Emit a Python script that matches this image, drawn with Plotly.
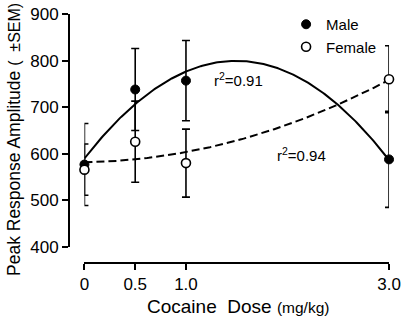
import numpy as np
import plotly.graph_objects as go

dose = [0, 0.5, 1.0, 3.0]
dose_ticks = ["0", "0.5", "1.0", "3.0"]
male_mean = [577, 738, 757, 588]
male_sem = [88, 88, 86, 103]
female_mean = [566, 626, 580, 760]
female_sem = [55, 87, 73, 72]
y_ticks = [400, 500, 600, 700, 800, 900]
r2_male = "r<sup>2</sup>=0.91"
r2_female = "r<sup>2</sup>=0.94"

FONT = "Liberation Sans, Arial, sans-serif"

xs = np.linspace(0, 3, 200)
male_fit = np.polyval(np.polyfit(dose, male_mean, 2), xs)
female_fit = np.polyval(np.polyfit(dose, female_mean, 2), xs)

fig = go.Figure()
fig.add_trace(go.Scatter(x=xs, y=male_fit, mode="lines", line=dict(color="black", width=2),
                         showlegend=False, hoverinfo="skip"))
fig.add_trace(go.Scatter(x=xs, y=female_fit, mode="lines",
                         line=dict(color="black", width=2, dash="8px,4px"),
                         showlegend=False, hoverinfo="skip"))
fig.add_trace(go.Scatter(x=dose, y=male_mean, mode="markers", name="Male",
                         marker=dict(color="black", size=9, line=dict(color="black", width=1)),
                         error_y=dict(type="data", array=male_sem, color="black", thickness=1.6, width=4),
                         cliponaxis=False))
fig.add_trace(go.Scatter(x=dose, y=female_mean, mode="markers", name="Female",
                         marker=dict(color="white", size=9, line=dict(color="black", width=1.6)),
                         error_y=dict(type="data", array=female_sem, color="black", thickness=1.6, width=4),
                         cliponaxis=False))

L, R, T, B = 69, 4, 14, 53
W, H = 414, 316
pw = W - L - R
ph = H - T - B

def px_x(p):
    return (p - L) / pw

def px_y(p):
    return (H - B - p) / ph

fig.update_layout(
    width=W, height=H,
    margin=dict(l=L, r=R, t=T, b=B, pad=0),
    paper_bgcolor="white", plot_bgcolor="white",
    font=dict(family=FONT, color="black", size=15),
    xaxis=dict(domain=[px_x(85), px_x(400.7)], range=[0, 3], anchor="free", position=0,
               tickmode="array", tickvals=dose, ticktext=dose_ticks,
               showline=True, linecolor="black", linewidth=2, ticks="outside", ticklen=6,
               tickwidth=2, tickcolor="black", showgrid=False, zeroline=False,
               tickfont=dict(size=17, family=FONT)),
    yaxis=dict(domain=[px_y(247), 1], range=[400, 900], anchor="free", position=0,
               tickmode="array", tickvals=y_ticks,
               showline=True, linecolor="black", linewidth=2, ticks="outside", ticklen=6,
               tickwidth=2, tickcolor="black", showgrid=False, zeroline=False,
               tickfont=dict(size=17, family=FONT)),
    legend=dict(x=px_x(294), y=px_y(8), xanchor="left", yanchor="top",
                bgcolor="rgba(0,0,0,0)", font=dict(size=15, family=FONT)),
    showlegend=True,
)

fig.add_annotation(text="Peak Response Amplitude <span style='font-size:16px'>(\u00a0\u00a0±SEM)</span>",
                   xref="paper", yref="paper", x=px_x(12), y=px_y(140), textangle=-90,
                   showarrow=False, xanchor="center", yanchor="middle", font=dict(size=17.5))
fig.add_annotation(text="Cocaine\u00a0\u00a0Dose <span style='font-size:15.5px'>(mg/kg)</span>",
                   xref="paper", yref="paper", x=px_x(244), y=px_y(306),
                   showarrow=False, xanchor="center", yanchor="middle", font=dict(size=19))
fig.add_annotation(text=r2_male, xref="paper", yref="paper", x=px_x(217), y=px_y(79),
                   showarrow=False, xanchor="left", yanchor="middle", font=dict(size=15))
fig.add_annotation(text=r2_female, xref="paper", yref="paper", x=px_x(283), y=px_y(154),
                   showarrow=False, xanchor="left", yanchor="middle", font=dict(size=15))

fig.write_html("out.html", config={"displayModeBar": False},
               post_script="document.body.style.margin='0';document.body.style.overflow='hidden';")
